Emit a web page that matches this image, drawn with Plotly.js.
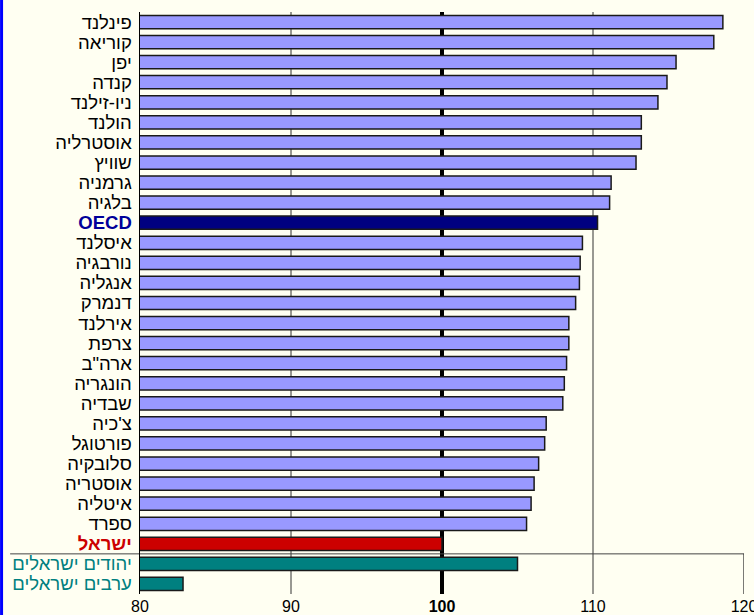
<!DOCTYPE html>
<html>
<head>
<meta charset="utf-8">
<script src="https://cdn.plot.ly/plotly-3.0.1.min.js"></script>
<style>
  html, body { margin: 0; padding: 0; background: #FFFFF2; }
  #chart { width: 754px; height: 615px; }
</style>
</head>
<body>
<div id="chart"></div>
<script>
// ---- data ----
const countries = [
  "פינלנד", "קוריאה", "יפן", "קנדה", "ניו-זילנד", "הולנד", "אוסטרליה", "שוויץ",
  "גרמניה", "בלגיה", "OECD", "איסלנד", "נורבגיה", "אנגליה", "דנמרק", "אירלנד",
  "צרפת", "ארה\"ב", "הונגריה", "שבדיה", "צ'כיה", "פורטוגל", "סלובקיה", "אוסטריה",
  "איטליה", "ספרד", "ישראל", "יהודים ישראלים", "ערבים ישראלים"
];
const scores = [
  118.6, 118.0, 115.5, 114.9, 114.3, 113.2, 113.2, 112.85,
  111.2, 111.1, 110.3, 109.3, 109.15, 109.1, 108.85, 108.4,
  108.4, 108.25, 108.1, 108.0, 106.9, 106.8, 106.4, 106.1,
  105.9, 105.6, 100.0, 105.0, 82.85
];
const groups = [
  "c","c","c","c","c","c","c","c",
  "c","c","oecd","c","c","c","c","c",
  "c","c","c","c","c","c","c","c",
  "c","c","israel","sub","sub"
];
const xTicks = [80, 90, 100, 110, 120];
const gridValues = [90, 110];
const baselineValue = 100;
const xRange = [80, 120];

// ---- styles ----
const barColor = { c: "#9999FF", oecd: "#000080", israel: "#CC0000", sub: "#008080" };
const labelStyle = {
  c: t => t,
  oecd: t => '<b><span style="color:#000099">' + t + '</span></b>',
  israel: t => '<b><span style="color:#CC0000">' + t + '</span></b>',
  sub: t => '<span style="color:#008080">' + t + '</span>'
};

const idx = countries.map((_, i) => i);
const trace = {
  type: "bar",
  orientation: "h",
  y: idx,
  x: scores,
  marker: {
    color: groups.map(g => barColor[g]),
    line: { color: "#1a1a1a", width: 1.5 }
  },
  hoverinfo: "skip"
};

const n = countries.length;
const shapes = [];
gridValues.forEach(v => shapes.push({
  type: "line", xref: "x", yref: "paper", x0: v, x1: v, y0: 0, y1: 1,
  line: { color: "#333333", width: 1 }, layer: "below"
}));
shapes.push({
  type: "line", xref: "x", yref: "paper", x0: baselineValue, x1: baselineValue, y0: 0, y1: 1,
  line: { color: "#000000", width: 4 }, layer: "below"
});
// separator between countries and sub-groups
shapes.push({
  type: "line", xref: "paper", yref: "y", x0: -0.215, x1: 1, y0: n - 2.5, y1: n - 2.5,
  line: { color: "#444444", width: 1 }, layer: "below"
});
shapes.push({
  type: "line", xref: "x", yref: "y", x0: xRange[1], x1: xRange[1], y0: n - 2.5, y1: n - 0.5,
  line: { color: "#222222", width: 1.2 }, layer: "below"
});
// blue left border
shapes.push({
  type: "line", xref: "paper", yref: "paper", x0: -0.2292, x1: -0.2292, y0: -0.1, y1: 1.1,
  line: { color: "#0000FF", width: 3 }
});

const layout = {
  width: 754, height: 615,
  margin: { l: 140, r: 10, t: 12, b: 21 },
  paper_bgcolor: "#FFFFF2",
  plot_bgcolor: "#FFFFF2",
  showlegend: false,
  bargap: 0.34,
  font: { family: "Arial, 'Liberation Sans', sans-serif", color: "#000" },
  xaxis: {
    range: xRange,
    tickvals: xTicks,
    ticktext: xTicks.map(v => v === baselineValue ? "<b>" + v + "</b>" : String(v)),
    tickfont: { size: 16, color: "#000" },
    showgrid: false, zeroline: false, showline: false,
    ticks: "", automargin: false, fixedrange: true,
    ticklabeloverflow: "allow", ticklabelstandoff: 1
  },
  yaxis: {
    range: [n - 0.5, -0.5],
    tickvals: idx,
    ticktext: countries.map((c, i) => labelStyle[groups[i]](c)),
    tickfont: { size: 18.5, color: "#000" },
    showgrid: false, zeroline: false,
    showline: true, linecolor: "#000", linewidth: 1.5,
    ticks: "", ticklen: 0, automargin: false, fixedrange: true,
    ticklabelstandoff: 3
  },
  shapes: shapes
};

Plotly.newPlot("chart", [trace], layout, { staticPlot: true, displayModeBar: false });
</script>
</body>
</html>
